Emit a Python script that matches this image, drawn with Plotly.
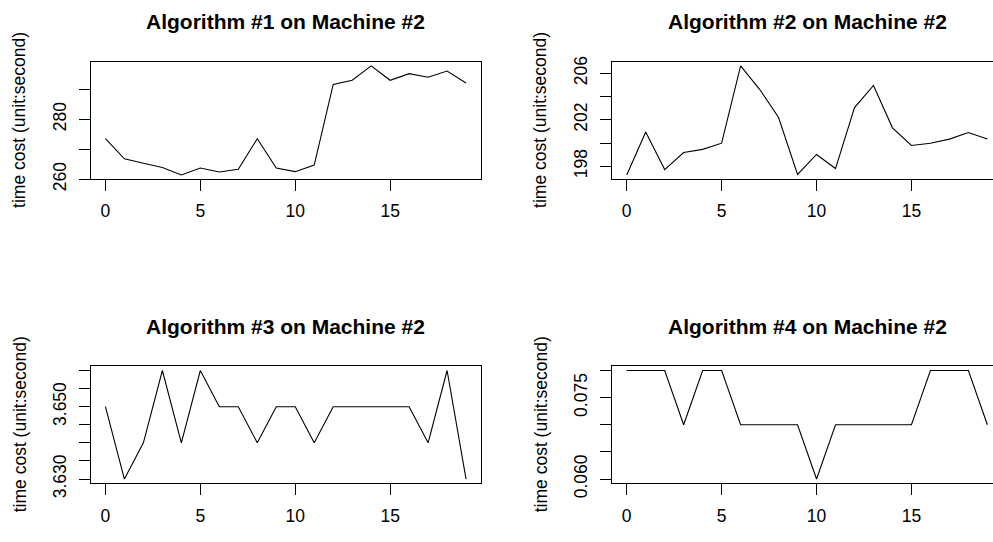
import plotly.graph_objects as go

# ---------------- data ----------------
runs = list(range(20))
alg1 = [273.5, 266.8, 265.3, 263.9, 261.4, 263.7, 262.4, 263.3, 273.5, 263.7,
        262.5, 264.7, 291.6, 293.0, 297.8, 293.0, 295.2, 294.0, 296.1, 292.1]
alg2 = [197.26, 200.95, 197.72, 199.19, 199.46, 199.99, 206.63, 204.62, 202.2, 197.31,
        199.02, 197.81, 203.05, 204.95, 201.31, 199.79, 199.99, 200.34, 200.9, 200.34]
alg3 = [3.65, 3.63, 3.64, 3.66, 3.64, 3.66, 3.65, 3.65, 3.64, 3.65,
        3.65, 3.64, 3.65, 3.65, 3.65, 3.65, 3.65, 3.64, 3.66, 3.63]
alg4 = [0.08, 0.08, 0.08, 0.07, 0.08, 0.08, 0.07, 0.07, 0.07, 0.07,
        0.06, 0.07, 0.07, 0.07, 0.07, 0.07, 0.08, 0.08, 0.08, 0.07]

titles = ["Algorithm #1 on Machine #2", "Algorithm #2 on Machine #2",
          "Algorithm #3 on Machine #2", "Algorithm #4 on Machine #2"]
ylabel = "time cost (unit:second)"
x_ticks = [0, 5, 10, 15]

y_tickvals = [
    [260, 270, 280, 290],
    [198, 200, 202, 204, 206],
    [3.630, 3.635, 3.640, 3.645, 3.650, 3.655, 3.660],
    [0.060, 0.065, 0.070, 0.075, 0.080],
]
y_ticktext = [
    ["260", "", "280", ""],
    ["198", "", "202", "", "206"],
    ["3.630", "", "", "", "3.650", "", ""],
    ["0.060", "", "", "0.075", ""],
]
series = [alg1, alg2, alg3, alg4]

# ---------------- layout geometry (pixels) ----------------
W, H = 993, 542
FONT = "Liberation Sans, Arial, sans-serif"
left_x = (91.0, 480.5)
right_x = (612.3, 993.0)
top_y = (58.7, 181.0)
bot_y = (375.0, 496.7)
boxes = [(left_x, top_y), (right_x, top_y), (left_x, bot_y), (right_x, bot_y)]
full_w = left_x[1] - left_x[0]


def r_range(vals):
    lo, hi = min(vals), max(vals)
    pad = 0.04 * (hi - lo)
    return [lo - pad, hi + pad]


fig = go.Figure()
annotations = []
for i, ((bx, by), vals) in enumerate(zip(boxes, series)):
    n = i + 1
    xa = "x" if n == 1 else f"x{n}"
    ya = "y" if n == 1 else f"y{n}"
    fig.add_trace(go.Scatter(x=runs, y=vals, mode="lines",
                             line=dict(color="black", width=1.1),
                             xaxis=xa, yaxis=ya, showlegend=False,
                             hoverinfo="skip"))
    xr = r_range(runs)
    visible = (bx[1] - bx[0]) / full_w
    xr = [xr[0], xr[0] + (xr[1] - xr[0]) * visible]
    is_left = (i % 2 == 0)
    row_top = (i < 2)
    xkey = "xaxis" if n == 1 else f"xaxis{n}"
    ykey = "yaxis" if n == 1 else f"yaxis{n}"
    fig.update_layout(**{
        xkey: dict(domain=[bx[0] / W, bx[1] / W], anchor=ya, range=xr,
                   tickmode="array", tickvals=x_ticks,
                   ticktext=[str(t) for t in x_ticks],
                   showline=True, mirror=True, linecolor="black", linewidth=1,
                   ticks="outside", ticklen=11, tickwidth=1, tickcolor="black",
                   showgrid=False, zeroline=False,
                   tickfont=dict(family=FONT, size=17.5, color="black"),
                   ticklabelstandoff=5 if row_top else 6),
        ykey: dict(domain=[1 - by[1] / H, 1 - by[0] / H], anchor=xa,
                   range=r_range(vals), tickmode="array",
                   tickvals=y_tickvals[i], ticktext=y_ticktext[i],
                   tickangle=-90,
                   showline=True, mirror=is_left, linecolor="black", linewidth=1,
                   ticks="outside", ticklen=11, tickwidth=1, tickcolor="black",
                   showgrid=False, zeroline=False,
                   tickfont=dict(family=FONT, size=17.5, color="black"),
                   ticklabelstandoff=6),
    })
    cx = (bx[0] + bx[0] + full_w) / 2
    annotations.append(dict(text=f"<b>{titles[i]}</b>", xref="paper", yref="paper",
                            x=cx / W, y=1 - (by[0] - 41.5) / H,
                            xanchor="center", yanchor="middle", showarrow=False,
                            font=dict(family=FONT, size=21, color="black")))
    lx = 19.5 if is_left else 540.5
    annotations.append(dict(text=ylabel, xref="paper", yref="paper",
                            x=lx / W, y=1 - ((by[0] + by[1]) / 2) / H,
                            xanchor="center", yanchor="middle", textangle=-90,
                            showarrow=False,
                            font=dict(family=FONT, size=17.5, color="black")))

fig.update_layout(width=W, height=H, margin=dict(l=0, r=0, t=0, b=0),
                  paper_bgcolor="white", plot_bgcolor="white",
                  annotations=annotations)

fig.write_html("out.html", config={"displayModeBar": False},
               post_script="document.body.style.margin='0';"
                           "document.body.style.overflow='hidden';")
